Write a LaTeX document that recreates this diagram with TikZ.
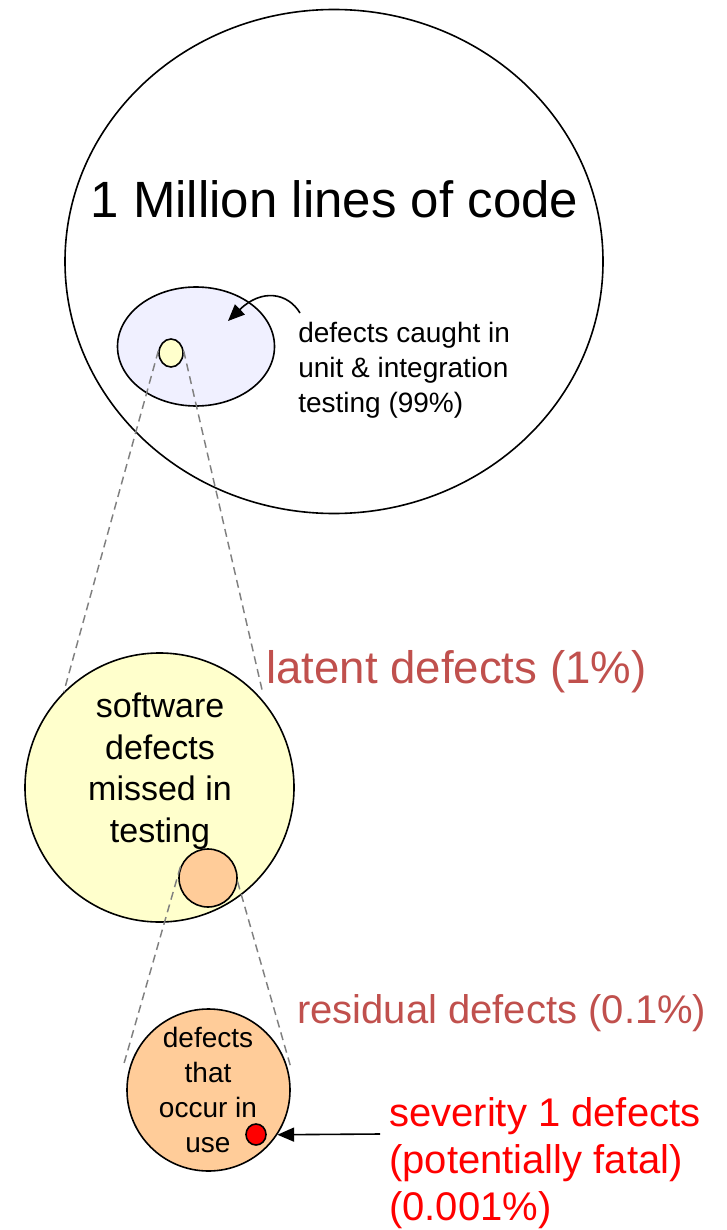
\documentclass[tikz,border=0pt]{standalone}
\usepackage{fontspec}
\setmainfont{Liberation Sans}
\usetikzlibrary{shapes.geometric,arrows.meta}
\definecolor{lavfill}{RGB}{240,240,255}
\definecolor{paleyellow}{RGB}{255,255,204}
\definecolor{peach}{RGB}{255,204,153}
\definecolor{brick}{RGB}{192,80,77}
\definecolor{conegray}{RGB}{128,128,128}
\tikzset{
  outline/.style={draw=black, line width=1.2pt, inner sep=0pt},
  blob/.style={outline, ellipse},
  cone/.style={draw=conegray, line width=1.1pt, dash pattern=on 6pt off 3.8pt},
  pointer/.style={draw=black, line width=1.2pt, -{Triangle[length=12.5pt,width=10.5pt]}},
  label/.style={inner sep=0pt, text=black},
}
\begin{document}
\begin{tikzpicture}[x=0.75pt,y=-0.75pt]
\useasboundingbox (0,0) rectangle (726,1230);

% the whole code base
\node[blob, minimum width=403.5pt, minimum height=378pt] (code) at (334,261.5) {};
\node[label, anchor=base, font={\fontsize{38.25}{44}\selectfont}] (codetxt) at (334.5,218) {1 Million lines of code};

% defects caught by testing (multi-line labels are placed by their last baseline)
\node[blob, fill=lavfill, minimum width=117.75pt, minimum height=89.25pt] (caught) at (196,346.5) {};
\node[label, anchor=base west, align=left, font={\fontsize{21}{25.9}\selectfont}] (caughttxt) at (298,412)
  {defects caught in\\unit \& integration\\testing (99\%)};
\coordinate (cstart) at (300,313);
\coordinate (ctip) at (228,321);
\draw[pointer] (cstart) .. controls (288,293) and (262,288) .. (ctip);

% latent defects: the small yellow blob, zoomed in below
\node[blob, fill=paleyellow, minimum width=18pt, minimum height=21pt] (seed) at (171,353) {};
\node[outline, circle, fill=paleyellow, minimum size=201.75pt] (missed) at (159.5,787.5) {};
\coordinate (lateR) at (263,694);
\draw[cone] (seed.170) -- (missed.135);
\draw[cone] (seed.10) -- (lateR);
\node[label, anchor=base, align=center, font={\fontsize{25.5}{31.1}\selectfont}] (missedtxt) at (160,842)
  {software\\defects\\missed in\\testing};
\node[label, anchor=base west, text=brick, font={\fontsize{34.2}{40}\selectfont}] (latenttxt) at (266,683) {latent defects (1\%)};

% residual defects
\node[outline, ellipse, fill=peach, minimum width=122.25pt, minimum height=121.5pt] (inuse) at (208.5,1090) {};
\coordinate (resL) at (123,1067);
\coordinate (resR) at (291,1068);
\node[outline, circle, fill=peach, minimum size=43.5pt] (resid) at (208,878) {};
\draw[cone] (resid.158) -- (resL);
\draw[cone] (resid.-7) -- (resR);
\node[label, anchor=base, align=center, font={\fontsize{21}{26.25}\selectfont}] (inusetxt) at (208,1152)
  {defects\\that\\occur in\\use};
\node[label, anchor=base west, text=brick, font={\fontsize{30}{35}\selectfont}] (residtxt) at (297,1023) {residual defects (0.1\%)};

% severity 1 defects
\node[outline, ellipse, fill=red, minimum width=15pt, minimum height=15.75pt] (fatal) at (256,1134.5) {};
\coordinate (sevstart) at (380,1134);
\draw[pointer] (sevstart) -- (inuse.-33);
\node[label, anchor=base west, align=left, text=red, font={\fontsize{30}{35}\selectfont}] (sevtxt) at (389,1220)
  {severity 1 defects\\(potentially fatal)\\(0.001\%)};
\end{tikzpicture}
\end{document}
